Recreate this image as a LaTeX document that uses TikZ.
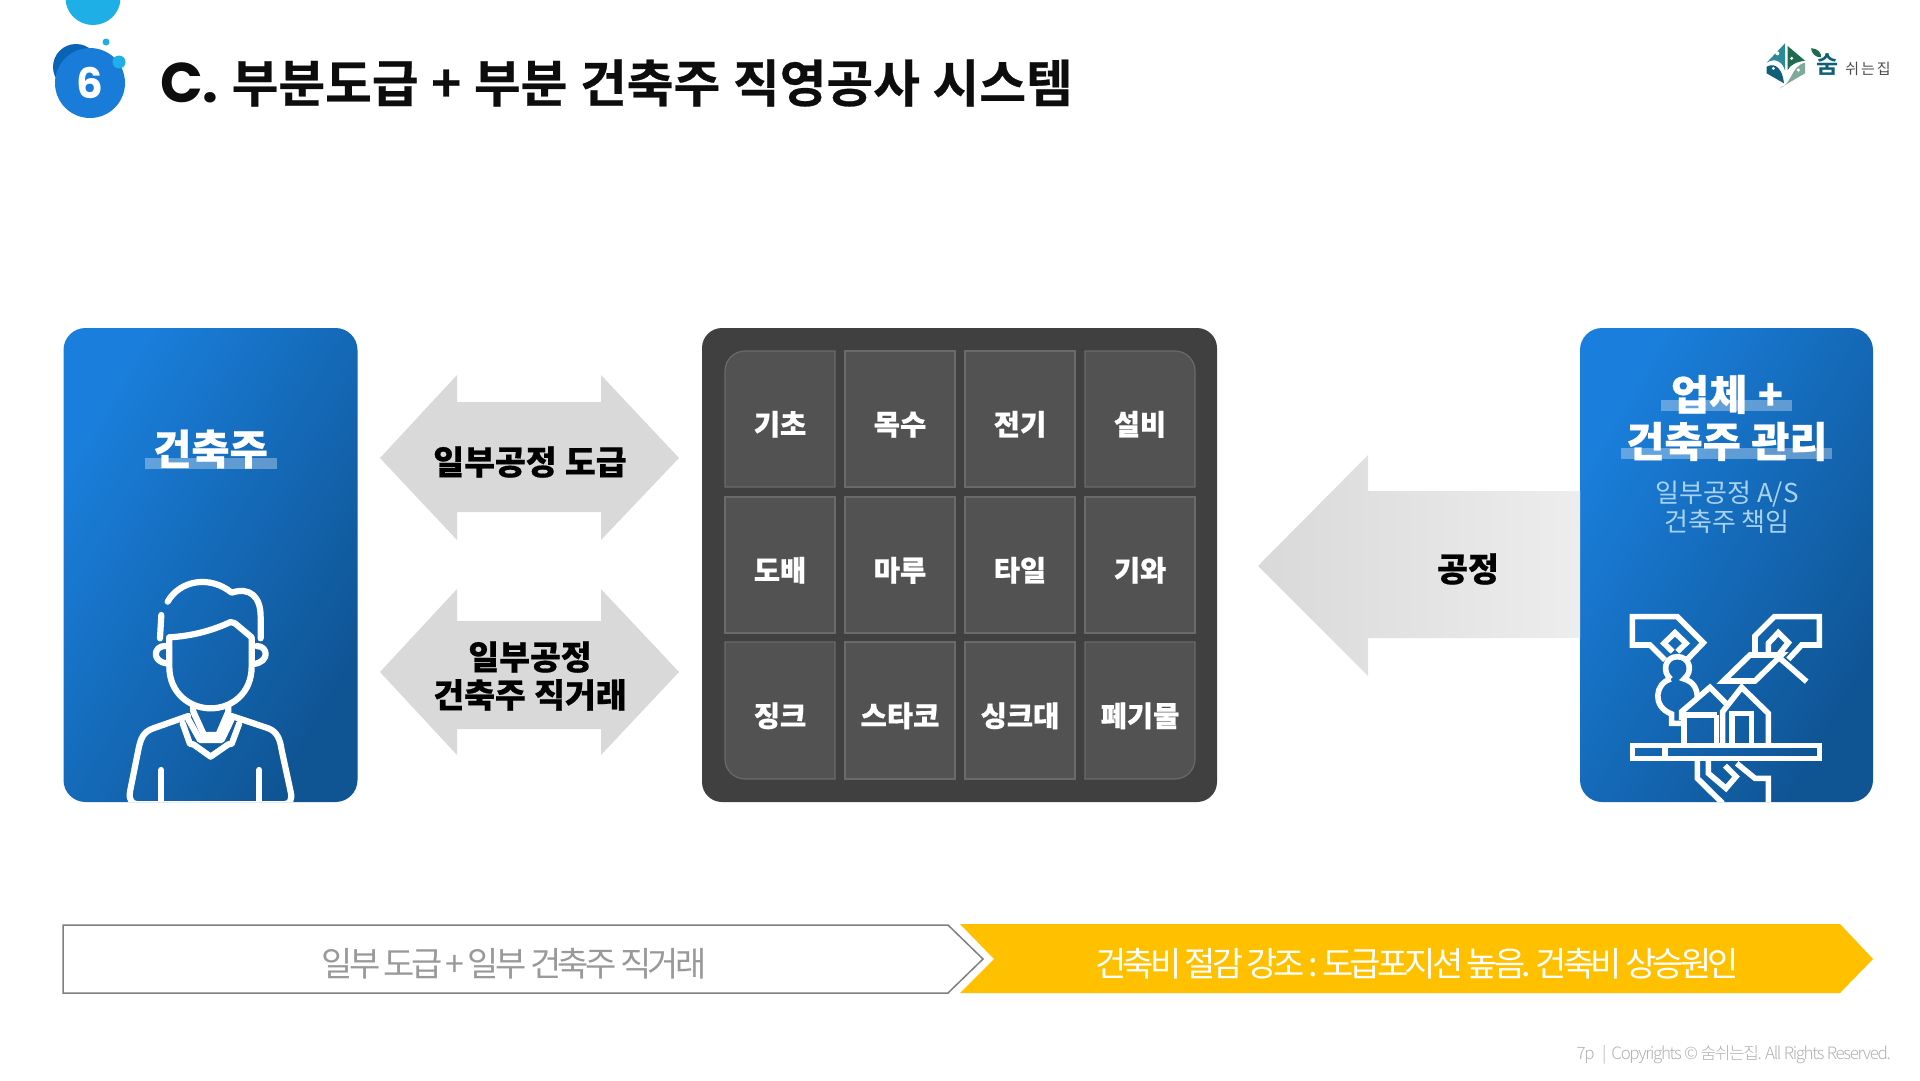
\documentclass[tikz,border=0pt]{standalone}
\usepackage{fontspec}
\newfontfamily\kblack{Noto Sans CJK KR Black}[WordSpace=1.1,FakeBold=0.5]
\newfontfamily\kbold{Noto Sans CJK KR Bold}
\newfontfamily\kreg{Noto Sans CJK KR}
\newfontfamily\ktight{Noto Sans CJK KR}[LetterSpace=-10.5,WordSpace=0.8]
\newfontfamily\ktightb{Noto Sans CJK KR}[LetterSpace=-11,WordSpace=0.8]
\newfontfamily\ktighter{Noto Sans CJK KR Light}[LetterSpace=-8]
\newfontfamily\pop{Poppins}[BoldFont={Poppins Bold}]
\definecolor{cardA}{HTML}{1A7FDC}
\definecolor{cardB}{HTML}{0F5493}
\definecolor{panel}{HTML}{404040}
\definecolor{cellfill}{HTML}{525252}
\definecolor{celledge}{HTML}{6A6A6A}
\definecolor{arrowgray}{HTML}{D9D9D9}
\definecolor{bubble}{HTML}{1DAFE5}
\definecolor{bubbleblue}{HTML}{1A7CD9}
\definecolor{bubbledark}{HTML}{0A63B5}
\definecolor{subblue}{HTML}{A9D2F2}
\definecolor{amber}{HTML}{FFC000}
\definecolor{edgegray}{HTML}{7F7F7F}
\definecolor{teal}{HTML}{0F5F78}
\definecolor{tealB}{HTML}{2C8A97}
\definecolor{leaf}{HTML}{1F6B4F}
\definecolor{sage}{HTML}{7FA99B}
\tikzset{
  card/.style={rounded corners=22pt,left color=cardA,right color=cardB,shading angle=60,draw=none},
  cellbox/.style={fill=cellfill,draw=celledge,line width=1.2pt},
  celltext/.style={font=\kblack\fontsize{28.5}{30}\selectfont,text=white,inner sep=0pt,text height=24pt,text depth=3pt},
  arrowtext/.style={font=\kblack\fontsize{33.5}{38}\selectfont,text=black,inner sep=0pt,align=center},
  cardtext/.style={font=\kblack\fontsize{41.5}{47}\selectfont,text=white,inner sep=0pt,align=center},
  marker/.style={fill=white,fill opacity=0.32,draw=none},
  icon/.style={draw=white,line width=6.2pt,line cap=round,line join=round,fill=none},
  iconb/.style={draw=white,line width=5.6pt,line cap=butt,line join=miter,fill=none},
}
\newcommand{\plaincell}[5]{%
  \draw[cellbox] (#2,#3) rectangle (#4,#5);
  \node[celltext] at ({(#2+#4)/2},{(#3+#5)/2+5.5}) {#1};}
\begin{document}
\begin{tikzpicture}[x=1pt,y=-1pt]
\useasboundingbox (0,0) rectangle (1920,1080);
\fill[white] (0,0) rectangle (1920,1080);
% header bubbles
\begin{scope}
\clip (0,0) rectangle (1920,1080);
\fill[bubble] (93,-2) circle[x radius=27.5,y radius=27];
\end{scope}
\fill[bubbledark] (76,67) circle[radius=23];
\fill[bubbleblue] (90,83) circle[radius=35];
\fill[bubble] (106,42) circle[radius=3.5];
\fill[bubble] (119,62) circle[radius=6.5];
\node[font=\pop\bfseries\fontsize{42}{44}\selectfont,text=white,inner sep=0pt] (six) at (90,83) {6};
% title
\node[anchor=west,inner sep=0pt,text=black!95] (title) at (160,83) {\pop\bfseries\fontsize{56}{60}\selectfont C.\kern13pt\kblack\fontsize{50.8}{60}\selectfont 부분도급 + 부분 건축주 직영공사 시스템};
% logo
\begin{scope}[shift={(1740,20)},x=0.3333pt,y=-0.3333pt]
\fill[tealB] (135,70) -- (80,128) .. controls (105,112) and (128,125) .. (135,152) -- cycle;
\fill[leaf] (143,78) -- (195,122) .. controls (170,125) and (150,135) .. (143,150) -- cycle;
\fill[teal] (80,140) .. controls (108,125) and (128,150) .. (132,190) -- (80,160) -- cycle;
\fill[sage] (118,205) .. controls (160,190) and (150,140) .. (195,128) -- (195,160) -- cycle;
\fill[leaf] (213,85) .. controls (235,85) and (245,100) .. (243,112) .. controls (225,112) and (215,100) .. (213,85) -- cycle;
\fill[white] (112,100) circle[radius=6];
\fill[white] (100,145) circle[radius=5];
\fill[white] (155,115) circle[radius=5];
\fill[white] (175,150) circle[radius=5];
\end{scope}
\node[font=\kbold\fontsize{24}{24}\selectfont,text=teal,inner sep=0pt] (logoa) at (1828,65) {숨};
\node[font=\kreg\fontsize{15}{15}\selectfont,text=black!70,inner sep=0pt] (logob) at (1868,69) {쉬\kern2pt 는\kern2pt 집};
% left card
\shade[card] (63.5,328) rectangle (357.5,802);
\fill[marker] (145,458) rectangle (277,469);
\node[cardtext] (owner) at (210.5,449) {건축주};
\begin{scope}
\clip[rounded corners=22pt] (63.5,328) rectangle (357.5,802);
\begin{scope}[shift={(100,560)},x=0.3333pt,y=-0.3333pt]
\draw[icon] (203,125) .. controls (240,60) and (330,45) .. (395,98) .. controls (450,80) and (482,110) .. (482,170) -- (482,235);
\draw[icon] (184,165) -- (180,235);
\draw[icon] (208,232) .. controls (280,228) and (340,210) .. (392,186) -- (405,190) -- (455,232);
\draw[icon] (208,232) -- (208,320) .. controls (208,400) and (270,445) .. (332,445) .. controls (395,445) and (455,400) .. (455,320) -- (455,235);
\draw[icon] (195,258) .. controls (160,258) and (155,305) .. (200,310);
\draw[icon] (470,258) .. controls (505,258) and (510,305) .. (462,312);
\draw[icon] (280,440) -- (280,455) -- (312,525) -- (355,525) -- (385,455) -- (385,440);
\draw[icon] (265,468) -- (160,505) .. controls (130,515) and (122,535) .. (115,570) -- (90,695) .. controls (86,720) and (95,733) .. (115,733) -- (550,733) .. controls (570,733) and (578,720) .. (572,695) -- (545,570) .. controls (540,535) and (530,515) .. (505,505) -- (395,468);
\draw[icon] (248,490) -- (270,552) -- (280,553) -- (332,590) -- (385,553) -- (395,552) -- (418,490);
\draw[icon] (265,478) -- (300,540) -- (365,540) -- (395,478);
\draw[icon] (184,630) -- (184,740);
\draw[icon] (478,630) -- (478,740);
\end{scope}
\end{scope}
% right card
\shade[card] (1580,328) rectangle (1873,802);
\fill[marker] (1661,400) rectangle (1792,411);
\fill[marker] (1621,448) rectangle (1832,459);
\node[cardtext] (vendor) at (1727,418) {업체 +\\건축주 관리};
\node[font=\kreg\fontsize{26}{29}\selectfont,text=subblue,inner sep=0pt,align=center] (vendorsub) at (1727,507) {일부공정 A/S\\건축주 책임};
\begin{scope}
\clip[rounded corners=22pt] (1580,328) rectangle (1873,802);
\begin{scope}[shift={(1600,600)},x=0.3333pt,y=-0.3333pt]
\draw[iconb] (195,180) -- (150,135) -- (97,135) -- (97,50) -- (232,50) -- (310,128) -- (262,178);
\draw[iconb] (218,155) -- (192,130) -- (225,98) -- (258,130) -- (232,155);
\draw[iconb] (212,237) .. controls (185,215) and (195,170) .. (232,170) .. controls (270,170) and (280,215) .. (252,237) .. controls (280,245) and (292,265) .. (292,295);
\draw[iconb] (212,237) .. controls (165,250) and (155,320) .. (215,342) -- (215,370) -- (250,370);
\draw[iconb] (245,360) -- (245,335) -- (330,262) -- (378,310);
\draw[iconb] (252,345) -- (352,345);
\draw[iconb] (252,345) -- (252,437);
\draw[iconb] (350,345) -- (350,437);
\draw[iconb] (368,437) -- (368,335) -- (425,262) -- (505,340) -- (505,437);
\draw[iconb] (396,437) -- (396,340) -- (455,340) -- (455,437);
\draw[iconb] (97,437) rectangle (658,475);
\draw[iconb] (195,437) -- (195,475);
\draw[iconb] (292,475) -- (292,535) -- (368,610);
\draw[iconb] (325,475) -- (325,520) -- (378,565) -- (408,530) -- (375,497);
\draw[iconb] (410,490) -- (465,535) -- (505,535) -- (505,610);
\draw[iconb] (465,160) -- (465,108) -- (523,50) -- (658,50) -- (658,135) -- (605,135) -- (565,178);
\draw[iconb] (505,160) -- (505,130) -- (535,98) -- (565,128) -- (535,165);
\draw[iconb] (370,243) -- (450,165) -- (545,165) -- (465,243) -- cycle;
\draw[iconb] (540,175) -- (620,245);
\end{scope}
\end{scope}
% centre panel
\fill[panel,rounded corners=20pt] (702,328) rectangle (1217,802);
% cells
\draw[cellbox] (725,371) .. controls (725,360) and (734,351) .. (745,351) -- (835,351) -- (835,487) -- (725,487) -- cycle;
\node[celltext] (c11) at (780,424.5) {기초};
\plaincell{목수}{845}{351}{955}{487}
\plaincell{전기}{965}{351}{1075}{487}
\draw[cellbox] (1085,351) -- (1175,351) .. controls (1186,351) and (1195,360) .. (1195,371) -- (1195,487) -- (1085,487) -- cycle;
\node[celltext] (c14) at (1140,424.5) {설비};
\plaincell{도배}{725}{497}{835}{633}
\plaincell{마루}{845}{497}{955}{633}
\plaincell{타일}{965}{497}{1075}{633}
\plaincell{기와}{1085}{497}{1195}{633}
\draw[cellbox] (725,642) -- (835,642) -- (835,779) -- (745,779) .. controls (734,779) and (725,770) .. (725,759) -- cycle;
\node[celltext] (c31) at (780,716) {징크};
\plaincell{스타코}{845}{642}{955}{779}
\plaincell{싱크대}{965}{642}{1075}{779}
\draw[cellbox] (1085,642) -- (1195,642) -- (1195,759) .. controls (1195,770) and (1186,779) .. (1175,779) -- (1085,779) -- cycle;
\node[celltext] (c34) at (1140,716) {폐기물};
% gray arrows
\fill[arrowgray] (380,458) -- (457,375) -- (457,402) -- (601,402) -- (601,375) -- (679,458) -- (601,540) -- (601,512) -- (457,512) -- (457,540) -- cycle;
\node[arrowtext] (a1) at (530,462) {일부공정 도급};
\fill[arrowgray] (380,672) -- (457,589) -- (457,621) -- (601,621) -- (601,589) -- (679,672) -- (601,755) -- (601,729) -- (457,729) -- (457,755) -- cycle;
\node[arrowtext] (a2) at (530,676) {일부공정\\건축주 직거래};
\shade[left color=arrowgray,right color=black!7,draw=none] (1258,566) -- (1368,455) -- (1368,491) -- (1580,491) -- (1580,638) -- (1368,638) -- (1368,676) -- cycle;
\node[arrowtext] (a3) at (1468,569) {공정};
% bottom band
\draw[edgegray,line width=1.5pt,fill=white] (63,925) -- (948,925) -- (983,959) -- (948,993) -- (63,993) -- cycle;
\node[font=\ktight\fontsize{34}{36}\selectfont,text=black!40,inner sep=0pt] (b1) at (514,964) {일부 도급 + 일부 건축주 직거래};
\fill[amber] (960,924) -- (1840,924) -- (1873,959) -- (1840,993) -- (960,993) -- (994,959) -- cycle;
\node[font=\ktightb\fontsize{34}{36}\selectfont,text=white,inner sep=0pt] (b2) at (1417,964) {건축비 절감 강조 : 도급포지션 높음. 건축비 상승원인};
% footer
\node[anchor=east,font=\ktighter\fontsize{17}{18}\selectfont,text=black!30,inner sep=0pt] (foot) at (1891,1055) {7p \kern5pt|\kern5pt Copyrights © 숨쉬는집. All Rights Reserved.};
\end{tikzpicture}
\end{document}
